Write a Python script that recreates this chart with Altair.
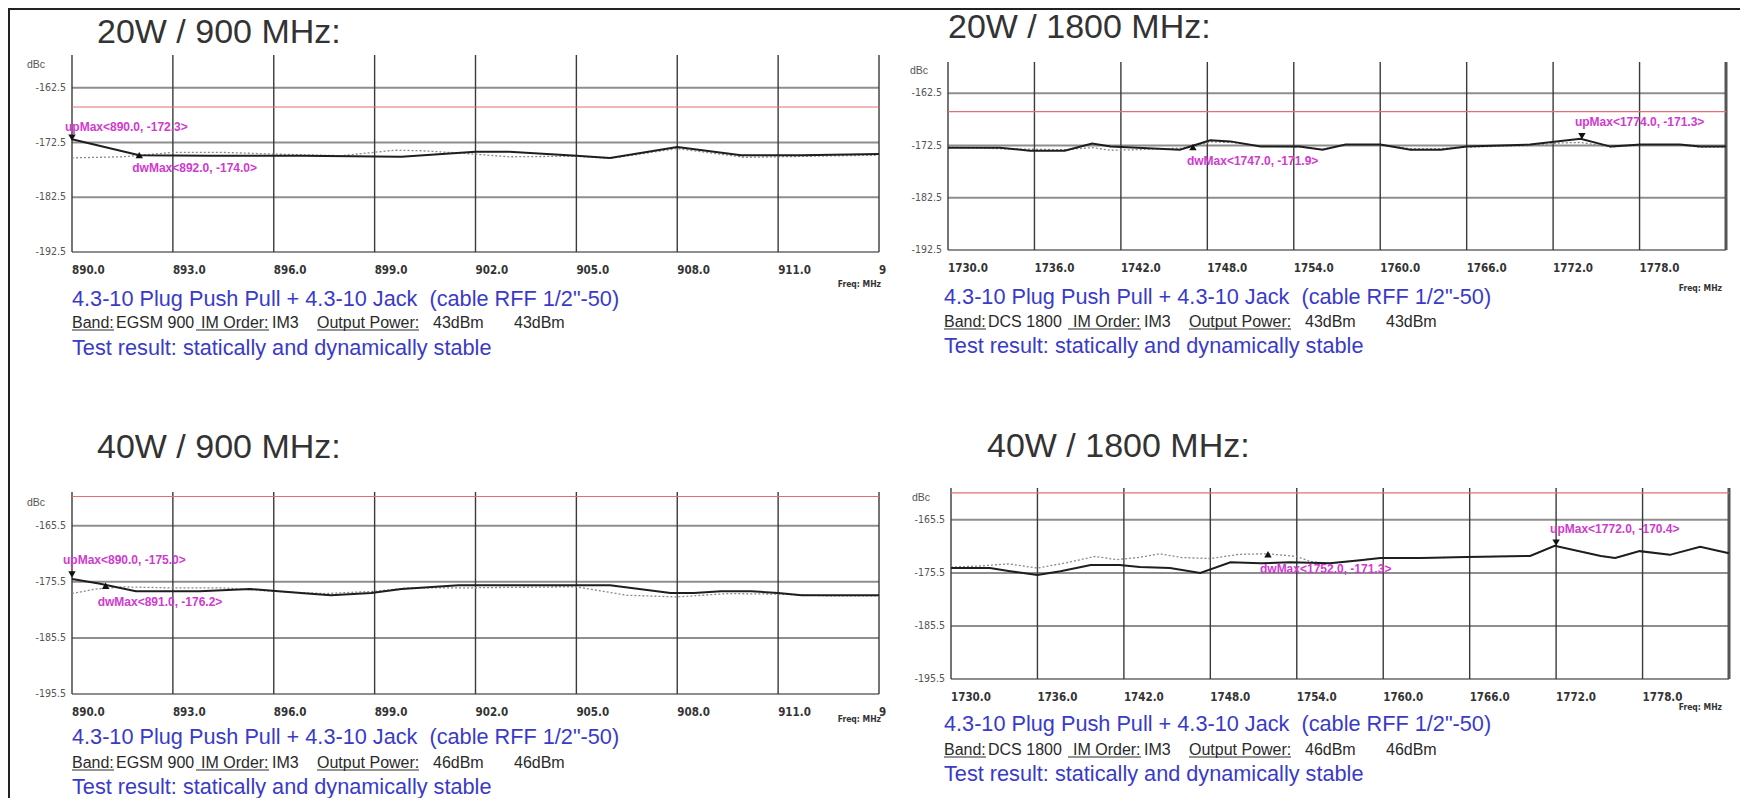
import altair as alt
import pandas as pd

W, H = 1732, 790
SANS = "Liberation Sans, Arial, Helvetica, sans-serif"
NARROW = "Liberation Sans Narrow, DejaVu Sans Condensed, Liberation Sans, sans-serif"
BLUE = "#3a3ac8"
MAG = "#d03ad0"

# ---------------- data ----------------
titles = ["20W / 900 MHz:", "20W / 1800 MHz:", "40W / 900 MHz:", "40W / 1800 MHz:"]
caption_1 = "4.3-10 Plug Push Pull + 4.3-10 Jack \u00a0(cable RFF 1/2\"-50)"
caption_3 = "Test result: statically and dynamically stable"
bands = ["EGSM 900", "DCS 1800", "EGSM 900", "DCS 1800"]
im_orders = ["IM3", "IM3", "IM3", "IM3"]
powers = ["43dBm", "43dBm", "46dBm", "46dBm"]

x900_ticks = [890, 893, 896, 899, 902, 905, 908, 911, 914]
x900_labels = ["890.0", "893.0", "896.0", "899.0", "902.0", "905.0", "908.0", "911.0", "9"]
x1800_ticks = [1730, 1736, 1742, 1748, 1754, 1760, 1766, 1772, 1778, 1784]
x1800_labels = ["1730.0", "1736.0", "1742.0", "1748.0", "1754.0", "1760.0", "1766.0", "1772.0", "1778.0", ""]
y20_ticks = [-192.5, -182.5, -172.5, -162.5]
y20_labels = ["-192.5", "-182.5", "-172.5", "-162.5"]
y40_ticks = [-195.5, -185.5, -175.5, -165.5]
y40_labels = ["-195.5", "-185.5", "-175.5", "-165.5"]
limits = [-166.0, -166.0, -160.3, -160.4]

# 20W / 900 MHz
p1_up_f = [890.0, 892.0, 894.1, 896.8, 898.3, 899.8, 902.0, 903.0, 905.0, 906.0, 908.0, 909.9, 911.7, 914.0]
p1_up_v = [-171.9, -174.8, -174.9, -174.9, -175.0, -175.1, -174.2, -174.2, -174.9, -175.3, -173.3, -174.8, -174.8, -174.6]
p1_dw_f = [890.0, 891.5, 893.0, 894.5, 896.0, 898.0, 899.6, 900.4, 901.5, 903.0, 905.0, 906.0, 908.0, 910.0, 912.0, 914.0]
p1_dw_v = [-175.3, -175.1, -174.3, -174.3, -174.6, -174.9, -173.9, -174.0, -174.4, -175.1, -175.0, -175.4, -173.6, -175.2, -175.0, -174.8]

# 20W / 1800 MHz
p2_up_f = [1730.0, 1733.6, 1735.7, 1738.1, 1740.0, 1741.3, 1746.1, 1748.2, 1749.6, 1751.7, 1754.4, 1756.0, 1757.6,
           1760.0, 1762.1, 1764.2, 1766.0, 1770.4, 1773.9, 1776.0, 1778.1, 1780.8, 1782.2, 1784.0]
p2_up_v = [-172.9, -172.9, -173.5, -173.5, -172.1, -172.7, -173.3, -171.5, -171.7, -172.7, -172.7, -173.3, -172.3,
           -172.3, -173.3, -173.3, -172.7, -172.3, -171.2, -172.7, -172.3, -172.3, -172.7, -172.7]
p2_dw_f = [1730.0, 1733.6, 1735.7, 1738.1, 1740.0, 1741.3, 1743.0, 1746.1, 1747.0, 1748.2, 1749.6, 1751.7, 1754.4,
           1756.0, 1757.6, 1760.0, 1762.1, 1764.2, 1766.0, 1770.4, 1772.5, 1773.9, 1776.0, 1778.1, 1780.8, 1782.2, 1784.0]
p2_dw_v = [-172.8, -173.1, -173.2, -173.3, -172.9, -173.4, -173.3, -173.0, -172.8, -171.8, -171.9, -172.6, -172.8,
           -173.2, -172.4, -172.4, -173.1, -173.1, -172.8, -172.5, -172.0, -171.9, -172.8, -172.4, -172.4, -172.8, -172.8]

# 40W / 900 MHz
p3_up_f = [890.0, 890.8, 891.9, 893.8, 895.3, 896.8, 897.7, 898.9, 899.8, 901.5, 905.0, 906.0, 907.8, 908.5,
           909.3, 910.2, 911.0, 911.7, 914.0]
p3_up_v = [-175.0, -175.8, -177.2, -177.2, -176.8, -177.5, -177.9, -177.5, -176.8, -176.1, -176.1, -176.1, -177.5,
           -177.5, -177.2, -177.2, -177.5, -177.9, -177.9]
p3_dw_f = [890.0, 890.7, 891.5, 893.0, 894.5, 896.0, 897.5, 899.0, 900.0, 901.5, 903.0, 905.0, 906.5, 908.0,
           909.5, 911.0, 912.5, 914.0]
p3_dw_v = [-177.6, -176.8, -176.4, -176.6, -176.6, -177.2, -177.6, -177.2, -176.6, -176.6, -176.5, -176.4, -177.9,
           -178.2, -177.6, -177.7, -178.0, -178.0]

# 40W / 1800 MHz
p4_up_f = [1730.0, 1732.7, 1734.1, 1736.0, 1737.6, 1739.7, 1741.7, 1743.1, 1745.2, 1747.3, 1749.4, 1751.5, 1753.5,
           1756.3, 1758.4, 1759.8, 1762.6, 1765.8, 1770.2, 1771.9, 1775.1, 1776.1, 1777.8, 1779.9, 1782.0, 1784.0]
p4_up_v = [-174.6, -174.6, -175.2, -175.9, -175.2, -174.0, -174.0, -174.4, -174.6, -175.5, -173.5, -173.7, -173.5,
           -173.7, -173.1, -172.7, -172.7, -172.5, -172.3, -170.4, -172.3, -172.7, -171.4, -172.1, -170.6, -171.8]
p4_dw_f = [1730.0, 1732.0, 1734.0, 1736.0, 1738.0, 1740.0, 1741.5, 1743.0, 1744.5, 1746.0, 1748.0, 1750.0, 1752.0,
           1754.0, 1755.0, 1756.3, 1758.4, 1759.8, 1762.6, 1765.8, 1770.2, 1771.9, 1775.1, 1776.1, 1777.8, 1779.9,
           1782.0, 1784.0]
p4_dw_v = [-174.4, -174.2, -173.8, -174.6, -173.6, -172.4, -173.0, -172.6, -171.9, -172.6, -172.8, -172.0, -171.9,
           -172.4, -173.4, -173.7, -173.1, -172.7, -172.7, -172.5, -172.3, -170.4, -172.3, -172.7, -171.4, -172.1,
           -170.6, -171.8]

# markers: (freq, value, label)
p1_markers = [(890.0, -171.6, "upMax<890.0, -172.3>"), (892.0, -174.8, "dwMax<892.0, -174.0>")]
p2_markers = [(1774.0, -170.7, "upMax<1774.0, -171.3>"), (1747.0, -172.8, "dwMax<1747.0, -171.9>")]
p3_markers = [(890.0, -174.2, "upMax<890.0, -175.0>"), (891.0, -176.2, "dwMax<891.0, -176.2>")]
p4_markers = [(1772.0, -169.8, "upMax<1772.0, -170.4>"), (1752.0, -172.0, "dwMax<1752.0, -171.3>")]

panels = [
    dict(xdom=[890, 914], ydom=[-192.5, -156.5], xt=x900_ticks, xl=x900_labels, yt=y20_ticks, yl=y20_labels,
         up=(p1_up_f, p1_up_v), dw=(p1_dw_f, p1_dw_v), mk=p1_markers, edge=False),
    dict(xdom=[1730, 1784], ydom=[-192.5, -156.5], xt=x1800_ticks, xl=x1800_labels, yt=y20_ticks, yl=y20_labels,
         up=(p2_up_f, p2_up_v), dw=(p2_dw_f, p2_dw_v), mk=p2_markers, edge=True),
    dict(xdom=[890, 914], ydom=[-195.5, -159.5], xt=x900_ticks, xl=x900_labels, yt=y40_ticks, yl=y40_labels,
         up=(p3_up_f, p3_up_v), dw=(p3_dw_f, p3_dw_v), mk=p3_markers, edge=False),
    dict(xdom=[1730, 1784], ydom=[-195.5, -159.5], xt=x1800_ticks, xl=x1800_labels, yt=y40_ticks, yl=y40_labels,
         up=(p4_up_f, p4_up_v), dw=(p4_dw_f, p4_dw_v), mk=p4_markers, edge=True),
]

# ---------------- layout (pixels) ----------------
geo = [
    dict(xr=[64, 871], yr=[244, 47], title=(89, 35), dbc=(19, 57), freq=(873, 276), cap=(64, 291, 315, 340),
         mk_off=[(-7, -11), (-7, 13)]),
    dict(xr=[940, 1718], yr=[242, 54], title=(940, 30), dbc=(902, 63), freq=(1714, 280), cap=(936, 289, 314, 338),
         mk_off=[(-7, -14), (-6, 14)]),
    dict(xr=[64, 871], yr=[686, 484], title=(89, 450), dbc=(19, 495), freq=(873, 711), cap=(64, 729, 755, 779),
         mk_off=[(-9, -14), (-8, 16)]),
    dict(xr=[943, 1721], yr=[671, 480], title=(979, 449), dbc=(904, 490), freq=(1714, 699), cap=(936, 716, 742, 766),
         mk_off=[(-6, -14), (-8, 15)]),
]

ONE = pd.DataFrame({"t": [""]})


def txt(s, x, y, **kw):
    return alt.Chart(pd.DataFrame({"t": [s]})).mark_text(**kw).encode(
        x=alt.value(x), y=alt.value(y), text="t:N")


def hline(x0, x1, y, color="#333", sw=1):
    return alt.Chart(ONE).mark_rule(color=color, strokeWidth=sw).encode(
        x=alt.value(x0), x2=alt.value(x1), y=alt.value(y))


def build_panel(i):
    P, G = panels[i], geo[i]
    xs = alt.Scale(domain=P["xdom"], range=G["xr"], nice=False, zero=False)
    ys = alt.Scale(domain=P["ydom"], range=G["yr"], nice=False, zero=False)

    def X(f):
        return alt.X(f, type="quantitative", scale=xs, axis=None)

    def Y(f):
        return alt.Y(f, type="quantitative", scale=ys, axis=None)

    x0, x1 = P["xdom"]
    y0, y1 = P["ydom"]
    layers = []
    hg = pd.DataFrame({"v": P["yt"], "a": x0, "b": x1})
    layers.append(alt.Chart(hg).mark_rule(color="#8e8e8e", strokeWidth=2).encode(x=X("a"), x2="b", y=Y("v")))
    vg = pd.DataFrame({"f": P["xt"], "a": y0, "b": y1})
    layers.append(alt.Chart(vg).mark_rule(color="#3a3a3a", strokeWidth=1.4).encode(x=X("f"), y=Y("a"), y2="b"))
    if P["edge"]:
        eg = pd.DataFrame({"f": [x1], "a": y0, "b": y1})
        layers.append(alt.Chart(eg).mark_rule(color="#555", strokeWidth=3).encode(x=X("f"), y=Y("a"), y2="b"))
    lim = pd.DataFrame({"v": [limits[i]], "a": x0, "b": x1})
    layers.append(alt.Chart(lim).mark_rule(color="#e07070", strokeWidth=1.2).encode(x=X("a"), x2="b", y=Y("v")))
    dw = pd.DataFrame({"f": P["dw"][0], "v": P["dw"][1]})
    layers.append(alt.Chart(dw).mark_line(color="#8a8a8a", strokeWidth=1.3, strokeDash=[2, 2]).encode(
        x=X("f"), y=Y("v")))
    up = pd.DataFrame({"f": P["up"][0], "v": P["up"][1]})
    layers.append(alt.Chart(up).mark_line(color="#1e1e1e", strokeWidth=2).encode(x=X("f"), y=Y("v")))
    # markers
    for k, (mf, mv, ml) in enumerate(P["mk"]):
        shape = "triangle-down" if k == 0 else "triangle-up"
        md = pd.DataFrame({"f": [mf], "v": [mv], "t": [ml]})
        layers.append(alt.Chart(md).mark_point(shape=shape, filled=True, size=55, color="#111", opacity=1).encode(
            x=X("f"), y=Y("v")))
        dx, dy = G["mk_off"][k]
        layers.append(alt.Chart(md).mark_text(align="left", baseline="middle", dx=dx, dy=dy, fontSize=12,
                                              fontWeight="bold", font=SANS, color=MAG).encode(
            x=X("f"), y=Y("v"), text="t:N"))
    # tick labels
    xl = pd.DataFrame({"f": P["xt"], "a": y0, "t": P["xl"]})
    layers.append(alt.Chart(xl).mark_text(align="left", baseline="middle", dy=19, fontSize=11.5, fontWeight="bold",
                                          font=NARROW, color="#333").encode(x=X("f"), y=Y("a"), text="t:N"))
    yl = pd.DataFrame({"v": P["yt"], "a": x0, "t": P["yl"]})
    layers.append(alt.Chart(yl).mark_text(align="right", baseline="middle", dx=-6, fontSize=10.5,
                                          font=NARROW, color="#555").encode(x=X("a"), y=Y("v"), text="t:N"))
    # texts
    tx, ty = G["title"]
    layers.append(txt(titles[i], tx, ty, align="left", baseline="alphabetic", fontSize=34, font=SANS,
                      color="#333333"))
    layers.append(txt("dBc", G["dbc"][0], G["dbc"][1], align="left", baseline="middle", fontSize=10.5,
                      font=SANS, color="#555"))
    layers.append(txt("Freq: MHz", G["freq"][0], G["freq"][1], align="right", baseline="middle", fontSize=8.5,
                      fontWeight="bold", font=NARROW, color="#333"))
    cx, l1, l2, l3 = G["cap"]
    layers.append(txt(caption_1, cx, l1, align="left", baseline="middle", fontSize=21.7, font=SANS, color=BLUE))
    segs = [("Band:", 0), (bands[i], 44), ("IM Order:", 129), (im_orders[i], 200), ("Output Power:", 245),
            (powers[i], 361), (powers[i], 442)]
    for s, off in segs:
        layers.append(txt(s, cx + off, l2, align="left", baseline="middle", fontSize=16, font=SANS, color="#2a2a2a"))
    for a, b in [(0, 42), (124, 197), (245, 347)]:
        layers.append(hline(cx + a, cx + b, l2 + 7, color="#2a2a2a", sw=1))
    layers.append(txt(caption_3, cx, l3, align="left", baseline="middle", fontSize=21.7, font=SANS, color=BLUE))
    return alt.layer(*layers)


frame = [
    hline(0, W, 1, color="#222", sw=2),
    alt.Chart(ONE).mark_rule(color="#222", strokeWidth=2).encode(
        x=alt.value(1), y=alt.value(0), y2=alt.value(H)),
]

chart = alt.layer(*[build_panel(i) for i in range(4)], *frame).resolve_scale(
    x="independent", y="independent"
).properties(
    width=W, height=H, padding=0, background="white",
    autosize=alt.AutoSizeParams(type="none")
).configure_view(stroke=None)

chart.save("out.html", embed_options={"renderer": "svg", "actions": False})
